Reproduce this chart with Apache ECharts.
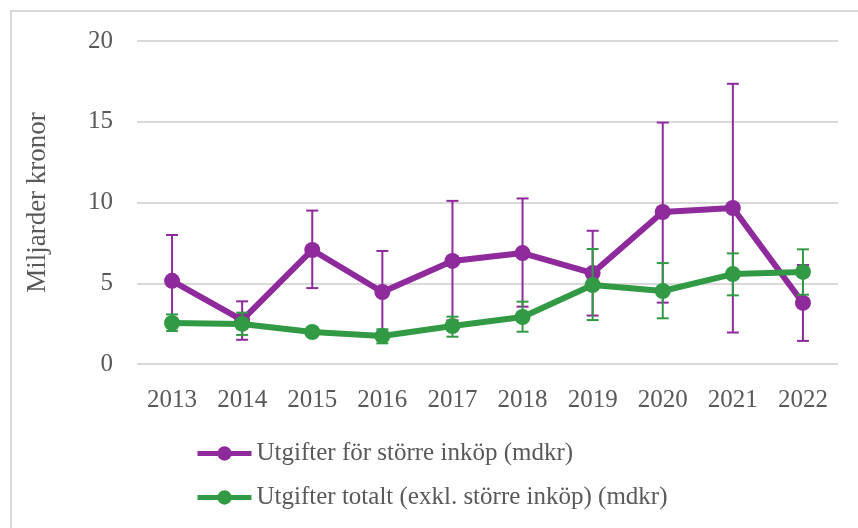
<!DOCTYPE html>
<html>
<head>
<meta charset="utf-8">
<script src="https://cdn.jsdelivr.net/npm/echarts@6/dist/echarts.min.js"></script>
<style>
  html, body { margin: 0; padding: 0; background: #fff; }
  #chart { width: 858px; height: 528px; }
</style>
</head>
<body>
<div id="chart"></div>
<script>
// år
var years = ['2013', '2014', '2015', '2016', '2017', '2018', '2019', '2020', '2021', '2022'];
// Utgifter för större inköp (mdkr)
var inkop = [5.15, 2.72, 7.06, 4.46, 6.38, 6.87, 5.63, 9.41, 9.66, 3.78];
var inkopLow = [2.3, 1.5, 4.7, 1.9, 2.7, 3.55, 3.0, 3.8, 1.95, 1.43];
var inkopHigh = [7.99, 3.88, 9.5, 7.0, 10.1, 10.25, 8.25, 14.95, 17.35, 6.13];
// Utgifter totalt (exkl. större inköp) (mdkr)
var totalt = [2.54, 2.48, 1.98, 1.73, 2.35, 2.91, 4.89, 4.52, 5.57, 5.70];
var totaltLow = [2.04, 1.8, 1.85, 1.28, 1.69, 2.0, 2.72, 2.83, 4.25, 4.29];
var totaltHigh = [3.07, 3.18, 2.1, 2.15, 2.93, 3.86, 7.12, 6.25, 6.85, 7.1];

var purple = '#8e2a9b';
var green = '#329a45';
var textColor = '#595959';
var font = 'Liberation Serif';

function errorData(low, high) {
  return years.map(function (y, i) { return [i, low[i], high[i]]; });
}

function errorBars(color) {
  return function (params, api) {
    var x = api.value(0);
    var lo = api.coord([x, api.value(1)]);
    var hi = api.coord([x, api.value(2)]);
    var half = 6;
    var style = { stroke: color, lineWidth: 2 };
    return {
      type: 'group',
      children: [
        { type: 'line', shape: { x1: lo[0], y1: lo[1], x2: hi[0], y2: hi[1] }, style: style },
        { type: 'line', shape: { x1: lo[0] - half, y1: lo[1], x2: lo[0] + half, y2: lo[1] }, style: style },
        { type: 'line', shape: { x1: hi[0] - half, y1: hi[1], x2: hi[0] + half, y2: hi[1] }, style: style }
      ]
    };
  };
}

var chart = echarts.init(document.getElementById('chart'));
chart.setOption({
  animation: false,
  textStyle: { fontFamily: font, color: textColor },
  graphic: [{
    type: 'rect',
    shape: { x: 11, y: 11, width: 860, height: 540 },
    style: { fill: 'none', stroke: '#d9d9d9', lineWidth: 2 },
    silent: true
  }],
  grid: { left: 137, top: 41, width: 701, height: 323 },
  legend: {
    orient: 'vertical',
    left: 195,
    top: 441,
    padding: 0,
    itemGap: 19,
    itemWidth: 54,
    itemHeight: 18,
    lineStyle: { width: 5 },
    textStyle: { fontFamily: font, fontSize: 25, color: textColor },
    data: ['Utgifter för större inköp (mdkr)', 'Utgifter totalt (exkl. större inköp) (mdkr)']
  },
  xAxis: {
    type: 'category',
    data: years,
    axisLine: { show: false },
    axisTick: { show: false },
    axisLabel: { fontFamily: font, fontSize: 25, color: textColor, margin: 24 }
  },
  yAxis: {
    type: 'value',
    min: 0,
    max: 20,
    interval: 5,
    name: 'Miljarder kronor',
    nameLocation: 'middle',
    nameGap: 86,
    nameTextStyle: { fontFamily: font, fontSize: 27, color: textColor },
    axisLabel: { fontFamily: font, fontSize: 25, color: textColor, margin: 24 },
    splitLine: { lineStyle: { color: '#d9d9d9', width: 2 } }
  },
  series: [
    {
      name: 'inkopErr',
      type: 'custom',
      renderItem: errorBars(purple),
      data: errorData(inkopLow, inkopHigh),
      z: 3
    },
    {
      name: 'Utgifter för större inköp (mdkr)',
      type: 'line',
      data: inkop,
      symbol: 'circle',
      symbolSize: 16,
      lineStyle: { color: purple, width: 6 },
      itemStyle: { color: purple },
      z: 4
    },
    {
      name: 'totaltErr',
      type: 'custom',
      renderItem: errorBars(green),
      data: errorData(totaltLow, totaltHigh),
      z: 5
    },
    {
      name: 'Utgifter totalt (exkl. större inköp) (mdkr)',
      type: 'line',
      data: totalt,
      symbol: 'circle',
      symbolSize: 16,
      lineStyle: { color: green, width: 6 },
      itemStyle: { color: green },
      z: 6
    }
  ]
});
</script>
</body>
</html>
